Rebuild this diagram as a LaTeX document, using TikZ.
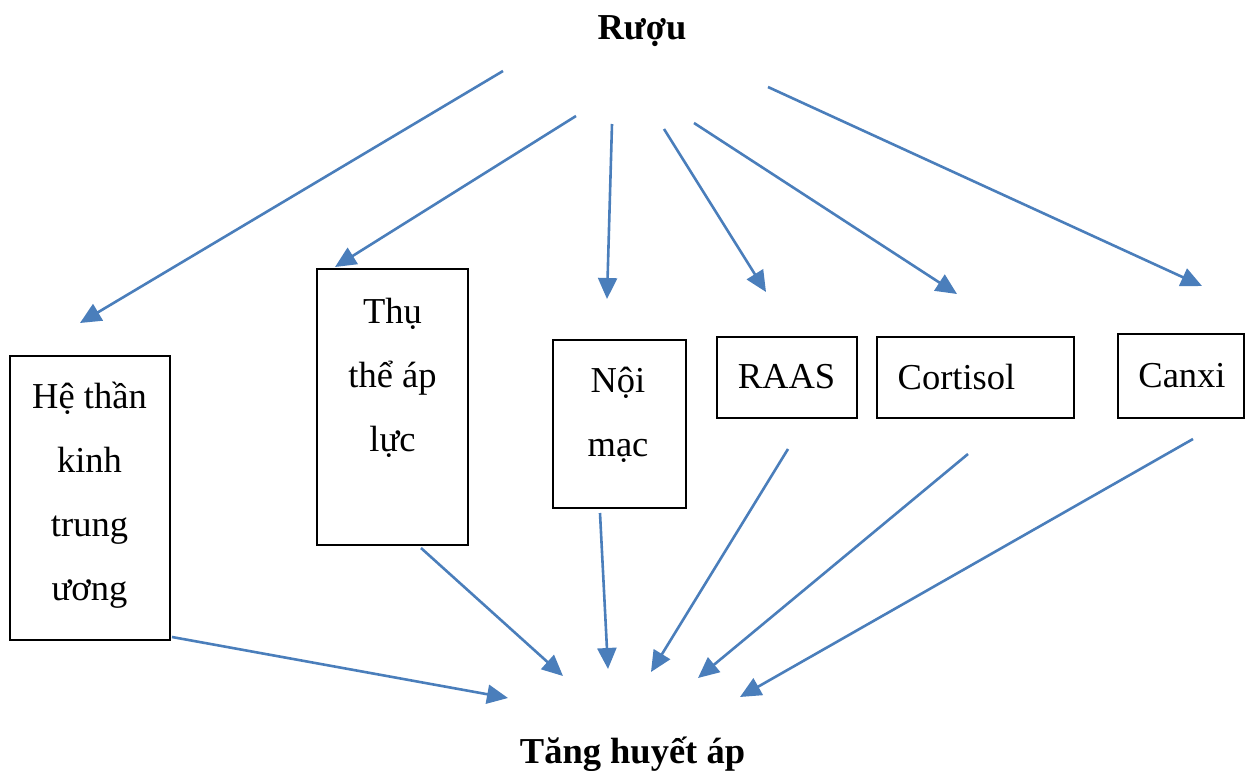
\documentclass[tikz,border=0pt]{standalone}
\usepackage{fontspec}
\setmainfont{Liberation Serif}
\usetikzlibrary{arrows.meta}
\definecolor{arrowblue}{RGB}{74,126,187}
\begin{document}
\begin{tikzpicture}[x=1pt,y=-1pt,
  box/.style={draw=black,line width=1.1pt,rectangle,inner sep=0pt,outer sep=0pt},
  txt/.style={anchor=base,inner sep=0pt,font=\fontsize{36.5}{44}\selectfont},
  head/.style={anchor=base,inner sep=0pt,font=\fontsize{36.5}{44}\selectfont\bfseries},
  link/.style={draw=arrowblue,line width=2.6pt,-{Triangle[length=21pt,width=19pt]}}]
\useasboundingbox (0,0) rectangle (1251,771);

% titles
\node[head] (ruou) at (642,39) {Rượu};
\node[head] (tha) at (632.5,763) {Tăng huyết áp};

% boxes
\node[box,minimum width=160pt,minimum height=284pt] (htk) at (90,498) {};
\node[box,minimum width=151pt,minimum height=276pt] (ttal) at (392.5,407) {};
\node[box,minimum width=133pt,minimum height=168pt] (nm) at (619.5,424) {};
\node[box,minimum width=140pt,minimum height=81pt] (raas) at (787,377.5) {};
\node[box,minimum width=197pt,minimum height=81pt] (cort) at (975.5,377.5) {};
\node[box,minimum width=126pt,minimum height=84pt] (canxi) at (1181,376) {};

% box labels
\node[txt] (htk1) at (89.5,408) {Hệ thần};
\node[txt] (htk2) at (89.5,472) {kinh};
\node[txt] (htk3) at (89.5,536) {trung};
\node[txt] (htk4) at (89.5,600) {ương};
\node[txt] (ttal1) at (392.5,323) {Thụ};
\node[txt] (ttal2) at (392.5,387) {thể áp};
\node[txt] (ttal3) at (392.5,451) {lực};
\node[txt] (nm1) at (618,392) {Nội};
\node[txt] (nm2) at (618,456) {mạc};
\node[txt] (raas1) at (786.5,388) {RAAS};
\node[txt] (cort1) at (956.5,389) {Cortisol};
\node[txt] (canxi1) at (1182,387) {Canxi};

% arrow ends, upper fan
\coordinate (s1) at (503,71);   \coordinate (e1) at (80,323);
\coordinate (s2) at (576,116);  \coordinate (e2) at (335,267);
\coordinate (s3) at (612,124);  \coordinate (e3) at (607,299);
\coordinate (s4) at (664,129);  \coordinate (e4) at (766,292);
\coordinate (s5) at (694,123);  \coordinate (e5) at (957,294);
\coordinate (s6) at (768,87);   \coordinate (e6) at (1202,286);
% arrow ends, lower fan
\coordinate (b1) at (172,637);  \coordinate (t1) at (508,698);
\coordinate (b2) at (421,548);  \coordinate (t2) at (563,676);
\coordinate (b3) at (600,513);  \coordinate (t3) at (608,669);
\coordinate (b4) at (788,449);  \coordinate (t4) at (651,672);
\coordinate (b5) at (968,454);  \coordinate (t5) at (698,678);
\coordinate (b6) at (1193,439); \coordinate (t6) at (740,697);

\foreach \i in {1,...,6}{
  \draw[link] (s\i) -- (e\i);
  \draw[link] (b\i) -- (t\i);
}
\end{tikzpicture}
\end{document}
